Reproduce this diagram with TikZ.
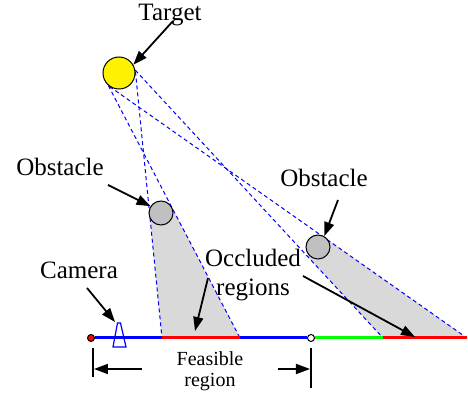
\documentclass[tikz,border=0pt]{standalone}
\usepackage{fontspec}
\setmainfont{Liberation Serif}
\usetikzlibrary{arrows.meta,calc,backgrounds}

\definecolor{gndgreen}{RGB}{0,255,0}
\definecolor{shadowgray}{RGB}{217,217,217}
\definecolor{stone}{RGB}{192,192,192}

\tikzset{
  ball/.style={draw,circle,inner sep=0pt,line width=0.5pt},
  sight/.style={blue,dash pattern=on 2pt off 1.5pt,line width=0.5pt},
  pointer/.style={-{Triangle[length=7pt,width=5pt]},line width=0.9pt},
  track/.style={line width=1.5pt},
  lbl/.style={font=\fontsize{12.5}{14.5}\selectfont,inner sep=0pt},
  smalllbl/.style={font=\fontsize{10}{10.5}\selectfont,inner sep=0pt},
}

\begin{document}
\begin{tikzpicture}[x=0.5pt,y=-0.5pt]
  \useasboundingbox (0,0) rectangle (468,401);
  % target and obstacles
  \node[ball,fill=yellow,minimum size=16pt] (target) at (119,73) {};
  \node[ball,fill=stone,minimum size=12pt] (obs1) at (161,213) {};
  \node[ball,fill=stone,minimum size=12pt] (obs2) at (318,247) {};
  % points on the ground
  \coordinate (g1) at (162,338);
  \coordinate (g2) at (240,338);
  \coordinate (g4) at (383,338);
  \coordinate (g5) at (467,338);
  % shadows and lines of sight
  \begin{scope}[on background layer]
    \fill[shadowgray] ($(target.5)!(obs1.center)!(g1)$) -- (g1) -- (g2)
      -- ($(target.230)!(obs1.center)!(g2)$) -- cycle;
    \fill[shadowgray] ($(target.10)!(obs2.center)!(g4)$) -- (g4) -- (g5)
      -- ($(target.235)!(obs2.center)!(g5)$) -- cycle;
    \draw[sight] (target.5) -- (g1);
    \draw[sight] (target.230) -- (g2);
    \draw[sight] (target.10) -- (g4);
    \draw[sight] (target.235) -- (g5);
  \end{scope}
  % ground track
  \node[draw,circle,fill=red,inner sep=0pt,minimum size=3.5pt,line width=0.5pt] (home) at (91,338) {};
  \node[draw,circle,inner sep=0pt,minimum size=3.5pt,line width=0.5pt] (mark) at (311,338) {};
  \draw[track,blue] (home) -- (g1);
  \draw[track,red] (g1) -- (g2);
  \draw[track,blue] (g2) -- (mark);
  \draw[track,gndgreen] (mark) -- (g4);
  \draw[track,red] (g4) -- (g5);
  % camera
  \draw[blue,line width=0.6pt] (117.5,323) -- (120.5,323) -- (126,347) -- (113,347) -- cycle;
  \coordinate (cam) at (115,322);
  % feasible region bars
  \coordinate (b0) at (93,348);
  \coordinate (b1) at (93,377);
  \coordinate (b2) at (311,348);
  \coordinate (b3) at (311,388);
  \draw[line width=0.8pt] (b0) -- (b1);
  \draw[line width=0.8pt] (b2) -- (b3);
  % labels
  \node[lbl,anchor=base] (ltarget) at (170,20.5) {Target};
  \node[lbl,anchor=base] (lobs1) at (60,176) {Obstacle};
  \node[lbl,anchor=base] (lobs2) at (324,187) {Obstacle};
  \node[lbl,anchor=base] (lcam) at (79,279) {Camera};
  \node[lbl,align=center] (locc) at (253,275) {Occluded\\regions};
  \node[smalllbl,align=center] (lfeas) at (210,371) {Feasible\\region};
  % arrows
  \coordinate (a0) at (173,21);
  \coordinate (a1) at (108,185);
  \coordinate (a2) at (338,200);
  \coordinate (a3) at (87,288);
  \coordinate (a4) at (208,278);
  \coordinate (a5) at (303,276);
  \coordinate (a6) at (142,369);
  \coordinate (a7) at (278,369);
  \coordinate (o1) at (195,331);
  \coordinate (o2) at (415,337);
  \coordinate (f1) at (94,369);
  \coordinate (f2) at (310,369);
  \draw[pointer] (a0) -- (target.30);
  \draw[pointer] (a1) -- (obs1.147);
  \draw[pointer] (a2) -- (obs2.60);
  \draw[pointer] (a3) -- (cam);
  \draw[pointer] (a4) -- (o1);
  \draw[pointer] (a5) -- (o2);
  \draw[pointer] (a6) -- (f1);
  \draw[pointer] (a7) -- (f2);
\end{tikzpicture}
\end{document}
